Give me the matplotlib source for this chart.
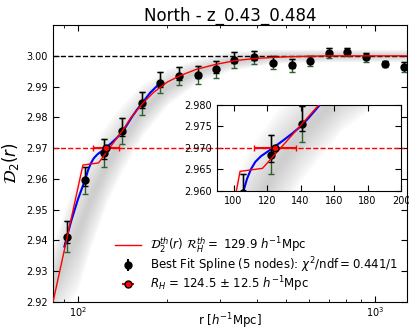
import numpy as np
import matplotlib
matplotlib.use("Agg")
import matplotlib.pyplot as plt

# measured D2(r) points (black = best fit spline, green = data errors)
r_pts = [91.8, 105.6, 122.3, 141.0, 164.2, 188.9, 218.8, 253, 291, 336, 391, 453, 525, 604, 700, 804, 933, 1083, 1253]
d2_pts = [2.9412, 2.9595, 2.9684, 2.9756, 2.9846, 2.9913, 2.9934, 2.9938, 2.9956, 2.9986, 2.9996, 2.9978,
          2.9969, 2.9984, 3.0009, 3.0012, 2.9995, 2.9974, 2.9964]
d2_err = [0.0051, 0.0045, 0.0045, 0.0042, 0.0037, 0.0033, 0.0030, 0.0028, 0.0027, 0.0025, 0.0021, 0.0020,
          0.0020, 0.0017, 0.0015, 0.0013, 0.0014, 0.0010, 0.0015]

# best fit spline (blue)
r_spline = [90, 91.8, 95, 100, 103, 106, 108, 110.4, 113, 116.3, 120, 123.7, 130, 135, 140.2, 145, 151.6,
            158, 165, 175, 189]
d2_spline = [2.9380, 2.9412, 2.9465, 2.9534, 2.9568, 2.9600, 2.9627, 2.9650, 2.9667, 2.9680, 2.9690, 2.9700,
             2.9718, 2.9733, 2.9750, 2.9770, 2.9800, 2.9825, 2.9848, 2.9880, 2.9912]

# theory curve (red)
r_th = [82.4, 103.9, 117.3, 142.4, 151, 165, 180, 200, 220, 250, 290, 340, 400, 500, 700, 1000, 1300]
d2_th = [2.920, 2.9645, 2.9652, 2.9762, 2.9800, 2.9845, 2.9882, 2.9915, 2.9935, 2.9956, 2.9972, 2.9985,
         2.9992, 2.9997, 3.0, 3.0, 3.0]

# envelope of the grey spline realisations
r_band = [82, 90, 100, 110, 125, 140, 165, 200, 250, 320, 450, 700, 1300]
band_lo = [2.912, 2.917, 2.924, 2.937, 2.952, 2.962, 2.974, 2.984, 2.991, 2.995, 2.9975, 2.998, 2.998]
band_hi = [2.938, 2.950, 2.962, 2.970, 2.978, 2.984, 2.991, 2.996, 2.999, 3.0015, 3.0022, 3.0022, 3.0022]

# homogeneity scale
rh, rh_err, d2_thr = 124.5, 12.5, 2.97

green = "#2f5f2f"


def draw(ax, cap=2):
    rb = np.array(r_band)
    lo = np.array(band_lo)
    hi = np.array(band_hi)
    mid = (lo + hi) / 2
    half = (hi - lo) / 2
    n = 12
    for k in range(n):
        f = 1 - k / n
        ax.fill_between(rb, mid - half * f, mid + half * f, color="0.5", alpha=0.035, lw=0)
    ax.axhline(3.0, color="k", ls="--", lw=1)
    ax.axhline(d2_thr, color="r", ls="--", lw=1)
    yerr = np.array(d2_err)
    ax.errorbar(r_pts, d2_pts, yerr=yerr, fmt="none", ecolor=green, capsize=cap, elinewidth=1)
    ax.errorbar(r_pts, d2_pts, yerr=[yerr * 0.4, yerr], fmt="o", color="k", ms=5, capsize=cap,
                elinewidth=1, zorder=4)
    ax.plot(r_spline, d2_spline, color="b", lw=1.5, zorder=3)
    ax.plot(r_th, d2_th, color="r", lw=1, zorder=5)
    ax.errorbar([rh], [d2_thr], xerr=[rh_err], fmt="o", color="r", mec="k", ms=5, capsize=cap,
                elinewidth=1.5, zorder=6)


plt.rcParams["xtick.direction"] = "in"
plt.rcParams["ytick.direction"] = "in"
plt.rcParams["xtick.top"] = True
plt.rcParams["ytick.right"] = True

fig = plt.figure(figsize=(4.09, 3.32), dpi=100)
ax = fig.add_axes([0.1296, 0.0904, 0.8655, 0.834])
draw(ax)
ax.set_xscale("log")
ax.set_xlim(82.4, 1282)
ax.set_ylim(2.92, 3.01)
ax.set_yticks(np.arange(2.92, 3.001, 0.01))
ax.set_yticklabels(["%.2f" % v for v in np.arange(2.92, 3.001, 0.01)])
ax.tick_params(labelsize=7)
ax.tick_params(axis="x", pad=2)
ax.tick_params(which="major", length=4)
ax.tick_params(which="minor", length=2)
ax.set_title("North - z_0.43_0.484", fontsize=12, pad=3)
ax.set_xlabel(r"r [$h^{-1}$Mpc]", fontsize=8.5, labelpad=-5)
ax.set_ylabel(r"$\mathcal{D}_2(r)$", fontsize=12, labelpad=4)

h_th, = ax.plot([], [], color="r", lw=1)
h_sp = ax.errorbar([], [], yerr=[], fmt="o", color="k", ms=5, capsize=2)
h_rh = ax.errorbar([], [], xerr=[], fmt="o", color="r", mec="k", ms=5, capsize=2)
ax.legend([h_th, h_sp, h_rh],
          [r"$\mathcal{D}_2^{th}(r)$ $\mathcal{R}_H^{th}=$ 129.9 $h^{-1}$Mpc",
           r"Best Fit Spline (5 nodes): $\chi^2/\mathrm{ndf}=$0.441/1",
           r"$R_H$ = 124.5 $\pm$ 12.5 $h^{-1}$Mpc"],
          loc="lower right", bbox_to_anchor=(1.005, -0.01), frameon=False, fontsize=8.5,
          handlelength=2.2, labelspacing=0.0)

ins = fig.add_axes([0.53, 0.4256, 0.4506, 0.259])
draw(ins, cap=2)
ins.set_xlim(90, 200)
ins.set_ylim(2.960, 2.980)
ins.set_xticks([100, 120, 140, 160, 180, 200])
ins.set_yticks([2.960, 2.965, 2.970, 2.975, 2.980])
ins.set_yticklabels(["2.960", "2.965", "2.970", "2.975", "2.980"])
ins.tick_params(labelsize=7, length=4)

fig.savefig("out.png", dpi=100)
